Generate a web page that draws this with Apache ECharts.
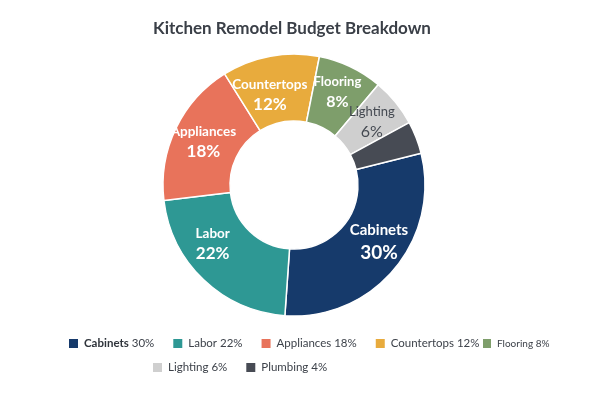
<!DOCTYPE html>
<html>
<head>
<meta charset="utf-8">
<script src="https://cdn.jsdelivr.net/npm/echarts@6/dist/echarts.min.js"></script>
<style>
  html, body { margin: 0; padding: 0; background: #fff; }
  #chart { width: 600px; height: 400px; }
</style>
</head>
<body>
<div id="chart"></div>
<script>
const categories = ['Cabinets', 'Labor', 'Appliances', 'Countertops', 'Flooring', 'Lighting', 'Plumbing'];
const shares = [30, 22, 18, 12, 8, 6, 4];
const colors = ['#163a6b', '#2e9894', '#e8735b', '#e8ab3d', '#7e9e6b', '#cfcfcf', '#474b54'];

const chartDom = document.getElementById('chart');
const myChart = echarts.init(chartDom);

const fontFamily = 'Lato, "Open Sans", sans-serif';

// small nudges so neighbouring labels on the thin slices don't collide
const labelOffsets = {
  Cabinets: [8, -8],
  Labor: [-12, -14],
  Countertops: [-6, 8],
  Flooring: [0, -3]
};

// label styles per slice: Cabinets a bit larger, Lighting dark text, Plumbing none
const labelFor = (name) => {
  if (name === 'Plumbing') return { show: false };
  let lbl;
  if (name === 'Cabinets') {
    lbl = {
      rich: {
        n: { fontSize: 15, fontWeight: 'bold', color: '#fff', fontFamily, lineHeight: 22 },
        p: { fontSize: 19, fontWeight: 'bold', color: '#fff', fontFamily, lineHeight: 22 }
      }
    };
  } else {
    const light = name === 'Lighting';
    const small = name === 'Flooring' || light;
    const c = light ? '#454a52' : '#fff';
    lbl = {
      rich: {
        n: { fontSize: small ? 13 : 13.5, fontWeight: light ? 'normal' : 'bold', color: c, fontFamily, lineHeight: 20 },
        p: { fontSize: small ? 16 : 17, fontWeight: light ? 'normal' : 'bold', color: c, fontFamily, lineHeight: 20 }
      }
    };
  }
  if (labelOffsets[name]) lbl.offset = labelOffsets[name];
  return lbl;
};

const seriesData = categories.map((name, i) => ({
  name: name,
  value: shares[i],
  itemStyle: { color: colors[i] },
  label: labelFor(name)
}));

const legendText = {
  fontSize: 11.5,
  color: '#3d424a',
  fontFamily,
  rich: {
    b: { fontSize: 11.5, fontWeight: 'bold', color: '#2f343b', fontFamily },
    s: { fontSize: 10, color: '#3d424a', fontFamily },
    r: { fontSize: 11.5, color: '#3d424a', fontFamily }
  }
};

const legendFormatter = (name) => {
  const v = shares[categories.indexOf(name)];
  if (name === 'Cabinets') return '{b|' + name + '} {r|' + v + '%}';
  if (name === 'Flooring') return '{s|' + name + ' ' + v + '%}';
  return '{r|' + name + ' ' + v + '%}';
};

const legendBase = {
  padding: 0,
  itemWidth: 11,
  itemHeight: 11,
  itemGap: 17,
  icon: 'rect',
  textStyle: legendText,
  formatter: legendFormatter
};

const option = {
  title: {
    text: 'Kitchen Remodel Budget Breakdown',
    left: 148,
    top: 15,
    textStyle: { fontSize: 17, fontWeight: 'bold', color: '#3a3f47', fontFamily }
  },
  legend: [
    Object.assign({}, legendBase, { data: categories.slice(0, 4), top: 337, left: 67 }),
    Object.assign({}, legendBase, { data: categories.slice(4, 5), top: 337, left: 481, itemWidth: 10 }),
    Object.assign({}, legendBase, { data: categories.slice(5), top: 361, left: 151 })
  ],
  series: [{
    type: 'pie',
    center: [294, 185],
    radius: [64, 131],
    startAngle: 14,
    clockwise: true,
    avoidLabelOverlap: false,
    labelLayout: { hideOverlap: false },
    itemStyle: { borderColor: '#fff', borderWidth: 1.5 },
    label: {
      show: true,
      position: 'inside',
      formatter: '{n|{b}}\n{p|{c}%}'
    },
    labelLine: { show: false },
    emphasis: { disabled: true },
    data: seriesData
  }]
};

option && myChart.setOption(option);
</script>
</body>
</html>
